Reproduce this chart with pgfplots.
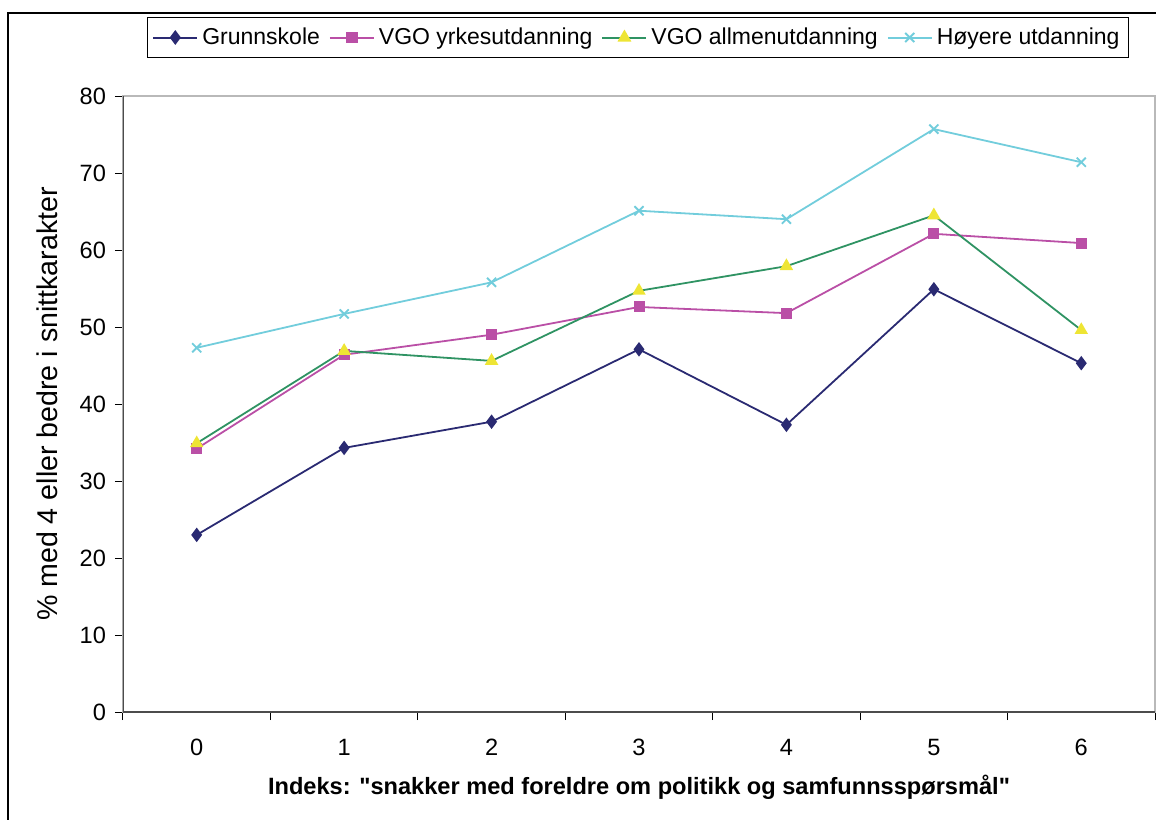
\documentclass[border=0pt]{standalone}
\usepackage{fontspec}
\setmainfont{Liberation Sans}
\usepackage{pgfplots}
\pgfplotsset{compat=1.18}
\definecolor{cnavy}{HTML}{2A2A72}
\definecolor{cmag}{HTML}{BA4FA6}
\definecolor{cgreen}{HTML}{2F9363}
\definecolor{cyel}{HTML}{EEE534}
\definecolor{ccyan}{HTML}{72CDDC}
\begin{document}
\begin{tikzpicture}[x=1pt,y=1pt]
\begin{axis}[
  at={(0,0)}, anchor=south west,
  scale only axis, width=516pt, height=308pt,
  xmin=-0.5, xmax=6.5, ymin=0, ymax=80,
  xtick={0,...,6},
  minor xtick={-0.5,0.5,...,6.5},
  ytick={0,10,...,80},
  xtick pos=bottom, ytick pos=left,
  major x tick style={draw=none},
  tick align=outside, major tick length=4pt, minor tick length=4pt,
  tick style={black, line width=0.5pt},
  axis line style={draw=gray!55, line width=0.6pt},
  /pgf/number format/assume math mode=true,
  ticklabel style={font=\fontsize{11.8}{13}\selectfont},
  xticklabel style={yshift=-6pt},
  yticklabel style={xshift=-1pt},
  ylabel={\% med 4 eller bedre i snittkarakter},
  ylabel style={font=\fontsize{14.3}{16}\selectfont, at={(axis description cs:0,0.5)}, anchor=center, yshift=38pt},
  xlabel={Indeks: \textquotedbl snakker med foreldre om politikk og samfunnsspørsmål\textquotedbl},
  xlabel style={font=\bfseries\fontsize{11.8}{13}\selectfont, at={(axis description cs:0.5,0)}, anchor=center, yshift=-37.5pt},
  legend columns=4,
  legend style={at={(axis description cs:0.499,1)}, anchor=center, yshift=29.25pt,
    draw=black, line width=0.6pt, font=\fontsize{11.5}{13}\selectfont,
    inner xsep=2.5pt, inner ysep=3pt,
    /tikz/every even column/.append style={column sep=2.5pt}},
  legend image code/.code={
    \draw[mark repeat=2,mark phase=2,#1,line width=1pt] plot coordinates {(0pt,0pt) (11pt,0pt) (22pt,0pt)};},
  every axis plot/.append style={line width=0.9pt},
]
\addplot[cnavy, mark=diamond*, mark size=2.9pt, mark options={fill=cnavy}] coordinates {
(0,23.0) (1,34.3) (2,37.7) (3,47.1) (4,37.3) (5,54.9) (6,45.3)};
\addlegendentry{Grunnskole}
\addplot[cmag, mark=square*, mark size=2.3pt, mark options={fill=cmag}] coordinates {
(0,34.2) (1,46.4) (2,49.0) (3,52.6) (4,51.8) (5,62.1) (6,60.9)};
\addlegendentry{VGO yrkesutdanning}
\addplot[cgreen, mark=triangle*, mark size=3pt, mark options={fill=cyel, draw=cyel}] coordinates {
(0,34.9) (1,46.9) (2,45.6) (3,54.7) (4,57.9) (5,64.5) (6,49.6)};
\addlegendentry{VGO allmenutdanning}
\addplot[ccyan, mark=x, mark size=3.2pt] coordinates {
(0,47.3) (1,51.7) (2,55.8) (3,65.1) (4,64.0) (5,75.7) (6,71.4)};
\addlegendentry{Høyere utdanning}
\draw[black!70, line width=0.9pt] (rel axis cs:0,1) -- (rel axis cs:0,0) -- (rel axis cs:1,0);
\end{axis}
\draw[black, line width=0.8pt] (-57.5,-70) -- (-57.5,349.5) -- (530,349.5);
\pgfresetboundingbox
\useasboundingbox (-61.5,-53.5) rectangle (516.5,356);
\end{tikzpicture}
\end{document}
